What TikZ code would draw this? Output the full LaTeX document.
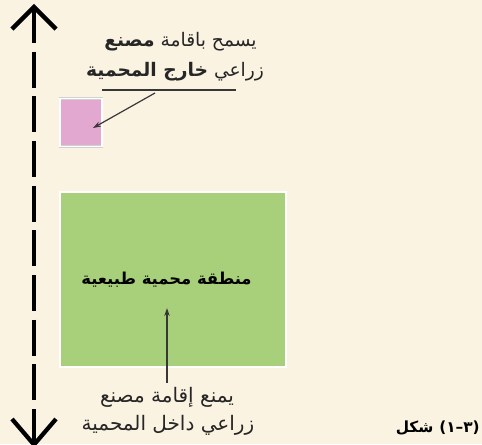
\documentclass[tikz,border=0pt]{standalone}
\usepackage{fontspec}
\newfontfamily\arabicfont[Script=Arabic]{DejaVu Sans}
\newfontfamily\latinfont{DejaVu Sans}
\TeXXeTstate=1
\usetikzlibrary{arrows.meta}
\definecolor{bgc}{RGB}{251,243,226}
\definecolor{pinkc}{RGB}{226,168,208}
\definecolor{greenc}{RGB}{168,208,122}
\definecolor{linec}{RGB}{55,55,55}
\begin{document}
\begin{tikzpicture}[x=0.75pt,y=-0.75pt,
  txt/.style={font=\arabicfont\fontsize{14}{16}\selectfont, inner sep=0pt, text=black!85},
  btxt/.style={font=\arabicfont\fontsize{15}{17}\selectfont, inner sep=0pt, text=black!85},
  boldtxt/.style={font=\arabicfont\bfseries\fontsize{12.3}{14}\selectfont, inner sep=0pt, text=black},
  capword/.style={font=\arabicfont\bfseries\fontsize{11.5}{14}\selectfont, inner sep=0pt, text=black},
  capnum/.style={font=\latinfont\bfseries\fontsize{11.5}{14}\selectfont, inner sep=0pt, text=black},
  boxbase/.style={draw=black!18, double=white, double distance=1pt, line width=0.4pt, inner sep=0pt},
  pinkbox/.style={boxbase, fill=pinkc, minimum width=31.5pt, minimum height=36pt},
  greenbox/.style={boxbase, fill=greenc, minimum width=169.5pt, minimum height=131.25pt},
  axisline/.style={line width=3.2pt, black, dash pattern=on 27pt off 6.5pt},
  axishead/.style={line width=3.2pt, black, line join=miter},
  pointer/.style={linec, line width=0.9pt, -{Stealth[length=6pt,width=4pt]}},
  underl/.style={linec, line width=1.1pt}
]
\useasboundingbox (0,0) rectangle (482,444);
\fill[bgc] (0,0) rectangle (482,444);

% vertical double-headed axis
\coordinate (axtop) at (34,7);
\coordinate (axbot) at (34,442);
\draw[axisline] (axtop) -- (axbot);
\draw[axishead] ([xshift=-22*0.75pt,yshift=-22*0.75pt]axtop) -- (axtop) -- ([xshift=22*0.75pt,yshift=-22*0.75pt]axtop);
\draw[axishead] ([xshift=-22*0.75pt,yshift=23*0.75pt]axbot) -- ([yshift=-2pt]axbot) -- ([xshift=22*0.75pt,yshift=23*0.75pt]axbot);

% boxes
\node[pinkbox] (pinksq) at (81,122.5) {};
\node[greenbox] (greensq) at (173,279.5) {};
\node[boldtxt] (greenlbl) at (166.5,280) {\beginR منطقة محمية طبيعية\endR};

% top label
\node[txt] (top1) at (180.5,42) {\beginR يسمح باقامة {\bfseries مصنع}\endR};
\node[txt] (top2) at (175,72) {\beginR زراعي {\bfseries خارج المحمية}\endR};
\coordinate (ul1) at (102,90);
\coordinate (ul2) at (236,90);
\draw[underl] (ul1) -- (ul2);
\coordinate (pstart) at (155,93);
\coordinate (pend) at (93,128);
\draw[pointer] (pstart) -- (pend);

% bottom label
\node[btxt] (bot1) at (167,397) {\beginR يمنع إقامة مصنع\endR};
\node[btxt] (bot2) at (168,425) {\beginR زراعي داخل المحمية\endR};
\coordinate (gstart) at (167,383);
\coordinate (gend) at (167,308);
\draw[pointer] (gstart) -- (gend);

% caption
\node[capnum, anchor=east] (capn) at (480,428) {\hbox{(}\hbox{١}\hbox{–}\hbox{٣}\hbox{)}};
\node[capword, anchor=east] (capw) at ([xshift=-4pt]capn.west) {شكل};
\end{tikzpicture}
\end{document}
